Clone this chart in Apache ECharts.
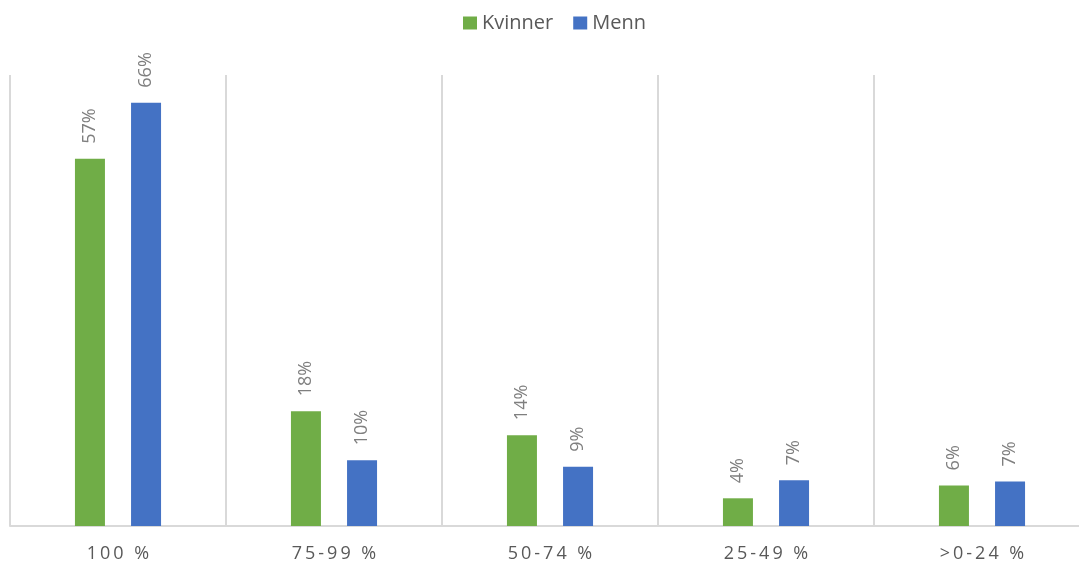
<!DOCTYPE html>
<html>
<head>
<meta charset="utf-8">
<script src="https://cdn.jsdelivr.net/npm/echarts@6/dist/echarts.min.js"></script>
<style>
  html, body { margin: 0; padding: 0; background: #ffffff; overflow: hidden; }
  #chart { width: 1092px; height: 563px; }
</style>
</head>
<body>
<div id="chart"></div>
<script>
const categories = ['100 %', '75-99 %', '50-74 %', '25-49 %', '>0-24 %'];
const seriesNames = ['Kvinner', 'Menn'];
const kvinner = [57.0, 17.8, 14.1, 4.3, 6.3];
const menn = [65.7, 10.2, 9.2, 7.1, 6.9];

const chart = echarts.init(document.getElementById('chart'), null, { renderer: 'canvas' });

const labelOpt = {
  show: true,
  position: 'top',
  rotate: 90,
  align: 'left',
  verticalAlign: 'middle',
  distance: 15,
  color: '#7f7f7f',
  fontFamily: 'Open Sans',
  fontSize: 18,
  formatter: p => Math.round(p.value) + '%'
};

chart.setOption({
  animation: false,
  color: ['#70AD47', '#4472C4'],
  legend: {
    data: seriesNames,
    top: 8,
    left: 458,
    itemWidth: 14,
    itemHeight: 13,
    itemGap: 20,
    icon: 'rect',
    textStyle: { fontFamily: 'Open Sans', fontSize: 20, color: '#595959' }
  },
  grid: { left: 10, right: 2, top: 75, bottom: 36, containLabel: false },
  xAxis: {
    type: 'category',
    data: categories,
    axisTick: { show: false },
    axisLine: { show: true, lineStyle: { color: '#d9d9d9', width: 2 } },
    splitLine: { show: true, lineStyle: { color: '#d9d9d9', width: 2 } },
    axisLabel: {
      margin: 19,
      fontFamily: 'Open Sans',
      fontSize: 18,
      color: '#595959',
      formatter: v => v.split('').join('\u2009')
    }
  },
  yAxis: {
    type: 'value',
    min: 0,
    max: 70,
    show: false,
    splitLine: { show: false }
  },
  series: [
    { name: seriesNames[0], type: 'bar', data: kvinner, barWidth: 30, barGap: '87%', label: labelOpt },
    { name: seriesNames[1], type: 'bar', data: menn, barWidth: 30, barGap: '87%', label: labelOpt }
  ]
});
</script>
</body>
</html>
